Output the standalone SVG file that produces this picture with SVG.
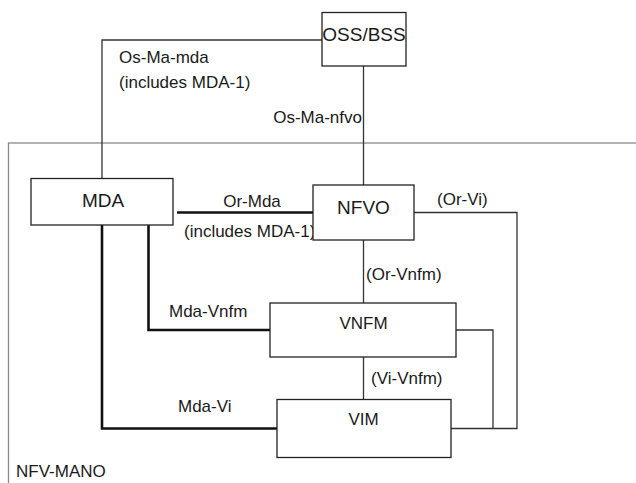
<svg xmlns="http://www.w3.org/2000/svg" width="636" height="483" viewBox="0 0 636 483">
  <style>
    .box { fill: #ffffff; stroke: #222222; stroke-width: 1.3; }
    .frame { fill: none; stroke: #8a8a8a; stroke-width: 1.3; }
    .thin { fill: none; stroke: #333333; stroke-width: 1.3; }
    .thick { fill: none; stroke: #111111; stroke-width: 2.6; }
    text { font-family: "Liberation Sans", Arial, sans-serif; fill: #1a1a1a; }
    .big { font-size: 19px; }
    .mid { font-size: 17px; }
    .lbl { font-size: 17px; }
  </style>

  <rect x="0" y="0" width="636" height="483" fill="#ffffff"/>

  <!-- NFV-MANO boundary -->
  <g id="nfv-mano">
    <rect class="frame" x="8.5" y="143" width="640" height="350"/>
    <text class="lbl" x="16" y="477">NFV-MANO</text>
  </g>

  <!-- reference points -->
  <g id="connectors">
    <!-- Os-Ma-mda -->
    <polyline class="thin" points="322,40 102,40 102,178"/>
    <!-- Os-Ma-nfvo -->
    <line class="thin" x1="363.5" y1="66" x2="363.5" y2="185"/>
    <!-- Or-Mda -->
    <line class="thick" x1="177" y1="212.5" x2="313" y2="212.5"/>
    <!-- Or-Vi -->
    <polyline class="thin" points="414,212.5 517,212.5 517,428.5 451,428.5"/>
    <!-- Or-Vnfm -->
    <line class="thin" x1="363.5" y1="240" x2="363.5" y2="303"/>
    <!-- Mda-Vnfm -->
    <polyline class="thick" points="148.5,225 148.5,330 270,330"/>
    <!-- Vi-Vnfm (VNFM to VIM side) -->
    <polyline class="thin" points="456,330 493,330 493,428.5"/>
    <line class="thin" x1="363.5" y1="357" x2="363.5" y2="399.5"/>
    <!-- Mda-Vi -->
    <polyline class="thick" points="102,225 102,428.5 277,428.5"/>
  </g>

  <g id="connector-labels">
    <text class="lbl" x="119" y="63">Os-Ma-mda</text>
    <text class="lbl" x="119" y="88">(includes MDA-1)</text>
    <text class="lbl" x="362" y="123" text-anchor="end">Os-Ma-nfvo</text>
    <text class="lbl" x="252" y="206.5" text-anchor="middle">Or-Mda</text>
    <text class="lbl" x="184" y="237">(includes MDA-1)</text>
    <text class="lbl" x="437" y="205">(Or-Vi)</text>
    <text class="lbl" x="366" y="280">(Or-Vnfm)</text>
    <text class="lbl" x="169" y="317">Mda-Vnfm</text>
    <text class="lbl" x="371" y="383.5">(Vi-Vnfm)</text>
    <text class="lbl" x="178" y="412">Mda-Vi</text>
  </g>

  <g id="oss-bss">
    <rect class="box" x="322" y="12.5" width="84" height="53.5"/>
    <text class="big" x="364" y="41" text-anchor="middle">OSS/BSS</text>
  </g>

  <g id="mda">
    <rect class="box" x="31" y="178.5" width="142" height="46.5"/>
    <text class="big" x="103" y="207" text-anchor="middle">MDA</text>
  </g>

  <g id="nfvo">
    <rect class="box" x="313" y="185" width="101" height="55"/>
    <text class="big" x="363.5" y="213.5" text-anchor="middle">NFVO</text>
  </g>

  <g id="vnfm">
    <rect class="box" x="270" y="303" width="186" height="54"/>
    <text class="mid" x="363.5" y="328.5" text-anchor="middle">VNFM</text>
  </g>

  <g id="vim">
    <rect class="box" x="277" y="399.5" width="174" height="58"/>
    <text class="mid" x="363.5" y="425" text-anchor="middle">VIM</text>
  </g>
</svg>
